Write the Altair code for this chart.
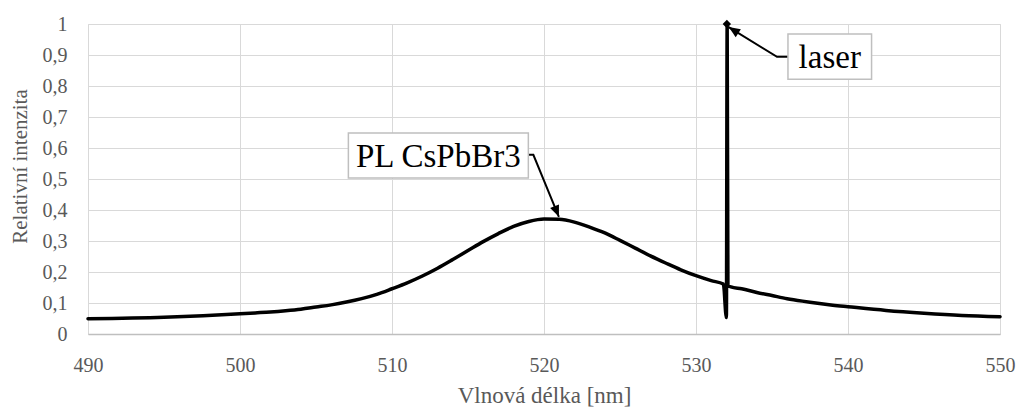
import altair as alt
import pandas as pd

# PL spectrum of CsPbBr3 with the excitation laser line at 532 nm
wavelength = [490, 495, 500, 501, 502, 503, 504, 505, 506, 507, 508, 509, 510, 511, 512,
              513, 514, 515, 516, 517, 518, 519, 520, 521, 522, 523, 524, 525, 526, 527,
              528, 529, 530, 531, 531.8, 532.0, 532.05, 532.1, 532.3, 533, 534, 535, 536,
              537, 538, 539, 540, 542.5, 545, 547.5, 550]
intensity = [0.049, 0.054, 0.065, 0.068, 0.071, 0.075, 0.080, 0.087, 0.094, 0.103, 0.114,
             0.128, 0.146, 0.165, 0.187, 0.212, 0.240, 0.269, 0.298, 0.324, 0.347, 0.363,
             0.371, 0.370, 0.361, 0.345, 0.326, 0.302, 0.277, 0.252, 0.229, 0.207, 0.188,
             0.172, 0.161, 0.053, 1.0, 0.156, 0.152, 0.146, 0.134, 0.124, 0.114, 0.106,
             0.099, 0.093, 0.088, 0.076, 0.067, 0.060, 0.056]

x_ticks = [490, 500, 510, 520, 530, 540, 550]
y_ticks = [0, 0.1, 0.2, 0.3, 0.4, 0.5, 0.6, 0.7, 0.8, 0.9, 1.0]

# callout boxes (data coordinates)
box_labels = ["PL CsPbBr3", "laser"]
box_x1 = [507.13, 536.05]
box_x2 = [518.97, 541.55]
box_y1 = [0.503, 0.822]
box_y2 = [0.648, 0.968]

# leader lines: box edge -> elbow -> arrow tip
leader_id = [0, 0, 0, 1, 1, 1]
leader_x = [518.97, 519.30, 520.98, 536.05, 535.33, 532.15]
leader_y = [0.578, 0.578, 0.378, 0.894, 0.894, 0.990]
tip_x = [520.98, 532.15]
tip_y = [0.378, 0.990]
tip_angle = [157.6, 302.6]

FONT = "Liberation Serif"
GREY = "#595959"

spec = pd.DataFrame({"wl": wavelength, "val": intensity, "i": range(len(wavelength))})
boxes = pd.DataFrame({"label": box_labels, "x1": box_x1, "x2": box_x2, "y1": box_y1, "y2": box_y2})
boxes["xc"] = (boxes.x1 + boxes.x2) / 2
boxes["yc"] = (boxes.y1 + boxes.y2) / 2
leaders = pd.DataFrame({"id": leader_id, "x": leader_x, "y": leader_y, "o": range(len(leader_x))})
tips = pd.DataFrame({"x": tip_x, "y": tip_y, "a": tip_angle})

xs = alt.Scale(domain=[490, 550], nice=False, zero=False)
ys = alt.Scale(domain=[0, 1], nice=False)

x_axis = alt.Axis(values=x_ticks, title="Vlnová délka [nm]")
y_axis = alt.Axis(
    values=y_ticks, title="Relativní intenzita",
    labelExpr="datum.value == 0 ? '0' : datum.value == 1 ? '1' : replace(format(datum.value, '.1f'), '.', ',')",
)


def px(field):
    return alt.X(field, scale=xs, axis=x_axis)


def py(field):
    return alt.Y(field, scale=ys, axis=y_axis)


line = alt.Chart(spec).mark_line(color="black", strokeWidth=3.5, interpolate="monotone",
                                 strokeJoin="round", strokeCap="round").encode(
    x=px("wl:Q"), y=py("val:Q"), order="i:O")

peak_marker = alt.Chart(pd.DataFrame({"x": [532.03], "y": [1.0]})).mark_point(
    shape="diamond", filled=True, color="black", size=70, opacity=1).encode(
    x=px("x:Q"), y=py("y:Q"))

leader_lines = alt.Chart(leaders).mark_line(color="black", strokeWidth=2).encode(
    x=px("x:Q"), y=py("y:Q"), detail="id:N", order="o:O")

arrow_heads = alt.Chart(tips).mark_point(
    shape="M0,0L-0.42,1L0.42,1Z", filled=True, color="black", size=520, opacity=1).encode(
    x=px("x:Q"), y=py("y:Q"), angle=alt.Angle("a:Q", scale=None))

box_rects = alt.Chart(boxes).mark_rect(fill="white", stroke="#bfbfbf", strokeWidth=1.5).encode(
    x=px("x1:Q"), x2="x2", y=py("y1:Q"), y2="y2")

box_text = alt.Chart(boxes).mark_text(font=FONT, fontSize=33, color="black", baseline="middle",
                                      align="center", dy=1).encode(
    x=px("xc:Q"), y=py("yc:Q"), text="label:N")

chart = alt.layer(line, peak_marker, leader_lines, arrow_heads, box_rects, box_text).properties(
    width=912, height=310,
    autosize=alt.AutoSizeParams(type="none"),
    padding={"left": 88, "top": 24, "right": 21, "bottom": 76},
).configure_view(stroke=None).configure(background="white").configure_axis(
    grid=True, gridColor="#d9d9d9", gridWidth=1, ticks=False,
    labelFont=FONT, labelFontSize=20, labelColor=GREY,
    titleFont=FONT, titleColor=GREY, titleFontWeight="normal",
).configure_axisX(
    domainColor="#bfbfbf", domainWidth=1.5, labelPadding=21, labelFlush=False,
    titleFontSize=23, titleX=456, titleY=61, titleBaseline="middle", titleAlign="center",
).configure_axisY(
    domain=False, labelPadding=21, titleFontSize=21,
    titleAngle=270, titleX=-68, titleY=142, titleBaseline="middle", titleAlign="center",
)

chart.save("out.html", embed_options={"renderer": "svg", "actions": False})
